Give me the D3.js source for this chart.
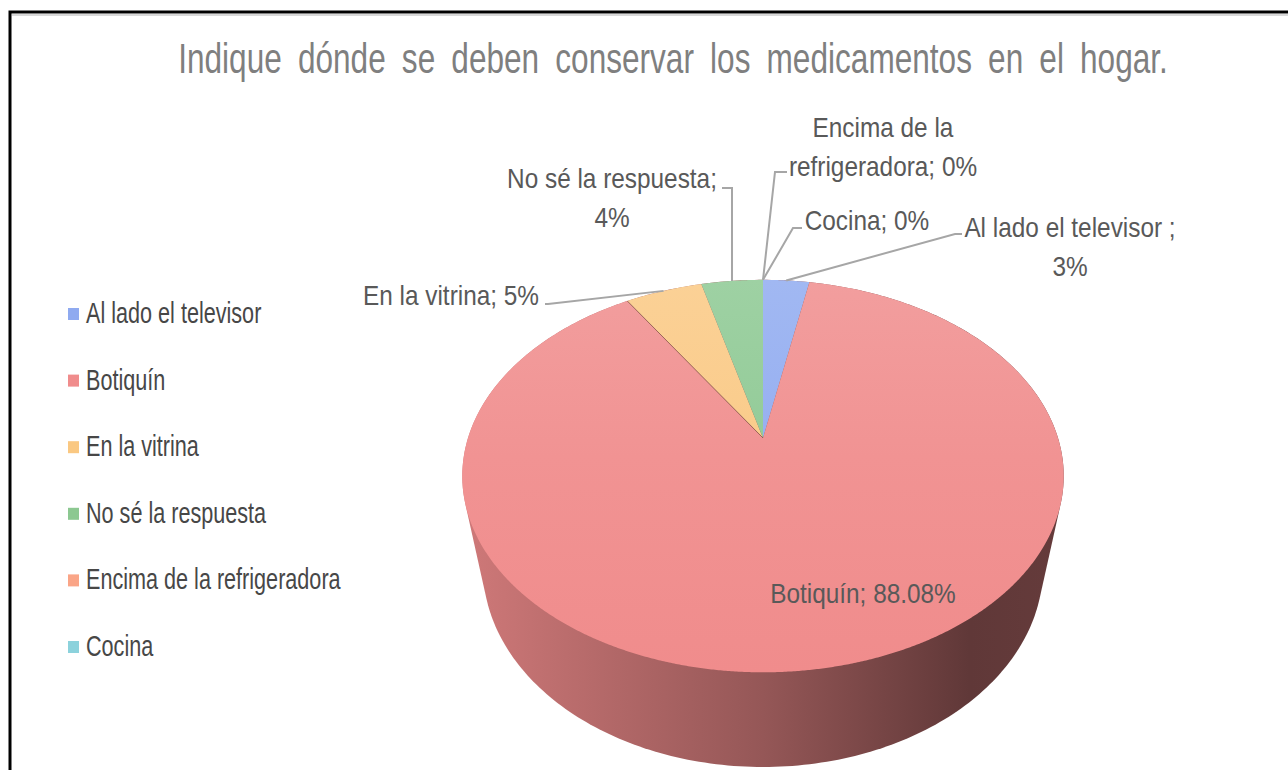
<!DOCTYPE html>
<html>
<head>
<meta charset="utf-8">
<script src="https://cdn.jsdelivr.net/npm/d3@7"></script>
<style>
body { margin: 0; background: #fff; }
svg { display: block; font-family: "Liberation Sans", Arial, sans-serif; }
</style>
</head>
<body>
<div id="chart"></div>
<script>
var title = "Indique dónde se deben conservar los medicamentos en el hogar.";
var categories = ["Al lado el televisor ", "Botiquín", "En la vitrina", "No sé la respuesta", "Encima de la refrigeradora", "Cocina"];
var values = [3, 88.08, 5, 4, 0, 0];
var colors = ["#8faaf0", "#f08c8c", "#fac882", "#8cc891", "#faa587", "#8cd2dc"];

// where each data label sits (center x, first baseline), words on line 1, leader elbow + end
var labelLayout = [
  {x: 1070, y: 237, words: 5, elbow: [955, 234], end: [962, 234]},
  {x: 863, y: 603, words: 0},
  {x: 451, y: 305, words: 0, elbow: [548, 304], end: [545, 304]},
  {x: 612, y: 188, words: 4, elbow: [732, 188], end: [722, 188]},
  {x: 883, y: 137, words: 3, elbow: [775, 172], end: [787, 172]},
  {x: 867, y: 230, words: 0, elbow: [793, 228], end: [802, 228]}
];

var W = 1288, H = 770;
var svg = d3.select("#chart").append("svg").attr("width", W).attr("height", H);
var defs = svg.append("defs");

// 3d pie projection (tilted disc seen with perspective)
var cx = 763, cy = 438, k = 295, tilt = 39.8 * Math.PI / 180, D = 3.96, thick = 0.44;
var s = Math.sin(tilt), c = Math.cos(tilt);
function project(a, h) {
  var x = Math.sin(a), z = -Math.cos(a);
  var Y = h * c - z * s, Z = z * c + h * s, f = D / (D - Z);
  return [cx + k * x * f, cy - k * Y * f];
}

var arcs = d3.pie().sort(null).value(function(d) { return d; })(values);
var line = d3.line();

// side of the cake, only Botiquín shows in front
var base = d3.rgb(colors[1]);
function shade(m) { return d3.rgb(base.r * m, base.g * m, base.b * m).toString(); }
var sideGrad = defs.append("linearGradient").attr("id", "side")
  .attr("gradientUnits", "userSpaceOnUse")
  .attr("x1", cx - k).attr("x2", cx + k).attr("y1", 0).attr("y2", 0);
[[0, 0.86], [0.5, 0.62], [0.85, 0.4], [1, 0.42]].forEach(function(st) {
  sideGrad.append("stop").attr("offset", st[0]).attr("stop-color", shade(st[1]));
});

var rim = [];
d3.range(0, 360, 1).forEach(function(deg) {
  var a = deg * Math.PI / 180;
  rim.push(project(a, 0));
  rim.push(project(a, -thick));
});
svg.append("path").attr("d", line(d3.polygonHull(rim)) + "Z").attr("fill", "url(#side)");

// top face gradients
var topY = project(0, 0)[1], botY = project(Math.PI, 0)[1];
colors.forEach(function(col, i) {
  var g = defs.append("linearGradient").attr("id", "top" + i)
    .attr("gradientUnits", "userSpaceOnUse")
    .attr("x1", 0).attr("x2", 0).attr("y1", topY).attr("y2", botY);
  g.append("stop").attr("offset", 0).attr("stop-color", d3.interpolateRgb(col, "#fff")(0.16));
  g.append("stop").attr("offset", 0.45).attr("stop-color", d3.interpolateRgb(col, "#fff")(0.06));
  g.append("stop").attr("offset", 1).attr("stop-color", col);
});

arcs.forEach(function(d, i) {
  if (d.endAngle - d.startAngle <= 0) return;
  var pts = [[cx, cy]];
  for (var a = d.startAngle; a < d.endAngle; a += 0.005) pts.push(project(a, 0));
  pts.push(project(d.endAngle, 0));
  svg.append("path").attr("d", line(pts) + "Z").attr("fill", "url(#top" + i + ")");
});

// thin edge where Botiquín meets En la vitrina
svg.append("line")
  .attr("x1", cx).attr("y1", cy)
  .attr("x2", project(arcs[1].endAngle, 0)[0]).attr("y2", project(arcs[1].endAngle, 0)[1])
  .attr("stroke", "#7a4a44").attr("stroke-opacity", 0.7).attr("stroke-width", 1);

function squeeze(sel, f) {
  sel.each(function() {
    var w = this.getComputedTextLength();
    d3.select(this).attr("textLength", w * f).attr("lengthAdjust", "spacingAndGlyphs");
  });
}

// leader lines and data labels
arcs.forEach(function(d, i) {
  var L = labelLayout[i];
  if (L.elbow) {
    var p = project((d.startAngle + d.endAngle) / 2, 0);
    svg.append("path").attr("d", line([p, L.elbow, L.end]))
      .attr("fill", "none").attr("stroke", "#a6a6a6").attr("stroke-width", 2);
  }
  var words = (categories[i] + "; " + values[i] + "%").split(" ").filter(function(w) { return w; });
  var lines = L.words ? [words.slice(0, L.words).join(" "), words.slice(L.words).join(" ")] : [words.join(" ")];
  lines.forEach(function(t, j) {
    svg.append("text").attr("x", L.x).attr("y", L.y + j * 39)
      .attr("text-anchor", "middle").attr("font-size", 28).attr("fill", "#595959")
      .text(t).call(squeeze, 0.87);
  });
});

// legend
var leg = svg.selectAll(".leg").data(categories).enter().append("g")
  .attr("transform", function(d, i) { return "translate(0," + (323 + i * 66.6) + ")"; });
leg.append("rect").attr("x", 68).attr("y", -15).attr("width", 11).attr("height", 12)
  .attr("fill", function(d, i) { return colors[i]; });
leg.append("text").attr("x", 86).attr("y", 0).attr("font-size", 29).attr("fill", "#474747")
  .text(function(d) { return d.trim(); }).call(squeeze, 0.745);

// title, squeezed to the 990px it takes in the original
var tg = svg.append("g").attr("transform", "translate(673,73)");
var tt = tg.append("text").attr("x", 0).attr("y", 0).attr("text-anchor", "middle")
  .attr("font-size", 43).attr("fill", "#7f7f7f").style("word-spacing", "10px")
  .text(title);
tg.attr("transform", "translate(673,73) scale(" + (990 / tt.node().getComputedTextLength()) + ",1)");

// frame
svg.append("line").attr("x1", 12).attr("x2", W).attr("y1", 15).attr("y2", 15)
  .attr("stroke", "#d9d9d9").attr("stroke-width", 2);
svg.append("rect").attr("x", 10).attr("y", 12).attr("width", W + 20).attr("height", H + 20)
  .attr("fill", "none").attr("stroke", "#000").attr("stroke-width", 3);
</script>
</body>
</html>
